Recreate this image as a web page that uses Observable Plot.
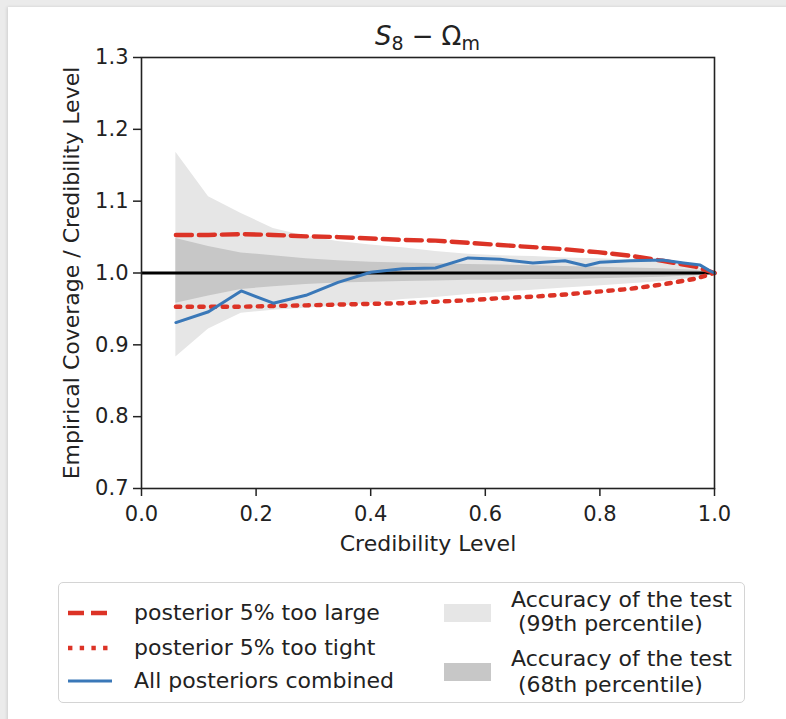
<!DOCTYPE html>
<html>
<head>
<meta charset="utf-8">
<script src="https://cdn.jsdelivr.net/npm/d3@7"></script>
<script src="https://cdn.jsdelivr.net/npm/@observablehq/plot@0.6"></script>
<style>
  html, body { margin: 0; padding: 0; }
  body { width: 786px; height: 719px; background: #ebebeb; position: relative; overflow: hidden;
         font-family: "DejaVu Sans", sans-serif; color: #222; }
  #card { position: absolute; left: 8px; top: 7px; right: -10px; bottom: -10px; background: #fff;
          box-shadow: -1px 0 3px rgba(0,0,0,0.12); }
  #chart { position: absolute; left: 0; top: 0; }
  #title { position: absolute; left: 0; width: 855px; top: 21px; text-align: center; font-size: 26px; line-height: 30px; }
  #title sub { font-size: 19px; vertical-align: -5px; line-height: 0; }
  #title .op { margin: 0 8px; }
  #legend { position: absolute; left: 58px; top: 582px; width: 687px; height: 121px; box-sizing: border-box;
            border: 1px solid #d4d4d4; border-radius: 5px; background: #fff; }
  .lg { position: absolute; font-size: 22px; line-height: 26px; white-space: pre; color: #222; }
  .sw { position: absolute; }
</style>
</head>
<body>
<div id="card"></div>
<div id="chart"></div>
<div id="title"><i>S</i><sub>8</sub><span class="op">−</span>Ω<sub>m</sub></div>
<div id="legend"></div>
<script>
// Credibility levels at which the coverage test was evaluated
const levels = [0.06, 0.117, 0.174, 0.23, 0.287, 0.343, 0.4, 0.456, 0.513, 0.57, 0.626, 0.683, 0.739, 0.796, 0.853, 0.909, 0.966, 1.0];

// Reference curves: posteriors that are 5% too wide / too narrow
const tooLarge = [1.053, 1.053, 1.054, 1.053, 1.051, 1.050, 1.048, 1.046, 1.045, 1.042, 1.039, 1.036, 1.033, 1.029, 1.024, 1.017, 1.009, 1.0];
const tooTight = [0.953, 0.953, 0.953, 0.954, 0.955, 0.956, 0.957, 0.958, 0.960, 0.962, 0.965, 0.967, 0.970, 0.974, 0.978, 0.984, 0.992, 1.0];

// Accuracy of the test (99th and 68th percentile envelopes)
const band99Lo = [0.883, 0.922, 0.944, 0.948, 0.951, 0.954, 0.958, 0.963, 0.966, 0.970, 0.973, 0.976, 0.979, 0.982, 0.985, 0.988, 0.993, 1.0];
const band99Hi = [1.168, 1.106, 1.083, 1.062, 1.051, 1.044, 1.039, 1.035, 1.030, 1.026, 1.024, 1.023, 1.021, 1.020, 1.018, 1.015, 1.009, 1.0];
const band68Lo = [0.958, 0.968, 0.977, 0.981, 0.984, 0.986, 0.987, 0.988, 0.989, 0.990, 0.990, 0.991, 0.991, 0.992, 0.993, 0.994, 0.996, 1.0];
const band68Hi = [1.048, 1.037, 1.028, 1.024, 1.020, 1.017, 1.015, 1.014, 1.013, 1.012, 1.011, 1.010, 1.009, 1.008, 1.007, 1.006, 1.004, 1.0];

// Empirical coverage of all posteriors combined
const combinedLevels = [0.06, 0.117, 0.174, 0.23, 0.287, 0.343, 0.4, 0.456, 0.513, 0.57, 0.626, 0.683, 0.739, 0.775, 0.8, 0.853, 0.909, 0.946, 0.975, 0.992, 1.0];
const combined =       [0.931, 0.946, 0.975, 0.958, 0.969, 0.987, 1.001, 1.006, 1.007, 1.021, 1.019, 1.014, 1.017, 1.010, 1.015, 1.017, 1.018, 1.014, 1.011, 1.003, 1.0];

// Axis ticks
const xTicks = [0, 0.2, 0.4, 0.6, 0.8, 1.0];
const yTicks = [0.7, 0.8, 0.9, 1.0, 1.1, 1.2, 1.3];

const rows = levels.map((level, i) => ({
  level, tooLarge: tooLarge[i], tooTight: tooTight[i],
  lo99: band99Lo[i], hi99: band99Hi[i], lo68: band68Lo[i], hi68: band68Hi[i]
}));
const combinedRows = combinedLevels.map((level, i) => ({level, value: combined[i]}));

const RED = "#dc3326";
const BLUE = "#3a78b8";
const LIGHT = "#e6e6e6";
const DARK = "#c7c7c7";
const DASHED = "16,7";
const DOTTED = "4.4,7.3";

const chart = Plot.plot({
  width: 786,
  height: 560,
  marginLeft: 141,
  marginRight: 72,
  marginTop: 57,
  marginBottom: 72,
  style: {background: "transparent", fontFamily: "DejaVu Sans, sans-serif", fontSize: "21px", color: "#222", overflow: "visible"},
  x: {domain: [0, 1]},
  y: {domain: [0.7, 1.3]},
  marks: [
    Plot.areaY(rows, {x: "level", y1: "lo99", y2: "hi99", fill: LIGHT}),
    Plot.areaY(rows, {x: "level", y1: "lo68", y2: "hi68", fill: DARK}),
    Plot.ruleY([1], {stroke: "#000", strokeWidth: 3}),
    Plot.lineY(rows, {x: "level", y: "tooLarge", stroke: RED, strokeWidth: 4.4, strokeDasharray: DASHED}),
    Plot.lineY(rows, {x: "level", y: "tooTight", stroke: RED, strokeWidth: 4.4, strokeDasharray: DOTTED}),
    Plot.lineY(combinedRows, {x: "level", y: "value", stroke: BLUE, strokeWidth: 3}),
    Plot.frame({stroke: "#222", strokeWidth: 1.6}),
    Plot.axisX({ticks: xTicks, tickFormat: d3.format(".1f"), tickSize: 8, tickPadding: 10, label: null, fontSize: 21, stroke: "#222", strokeWidth: 1.5}),
    Plot.axisY({ticks: yTicks, tickFormat: d3.format(".1f"), tickSize: 8, tickPadding: 5, label: null, fontSize: 21, stroke: "#222", strokeWidth: 1.5}),
    Plot.text(["Credibility Level"], {frameAnchor: "bottom", dy: 62, fontSize: 22, fill: "#222"}),
    Plot.text(["Empirical Coverage / Credibility Level"], {frameAnchor: "left", dx: -70, rotate: -90, textAnchor: "middle", fontSize: 22, fill: "#222"})
  ]
});
document.getElementById("chart").appendChild(chart);

// Legend, positioned below the axes
const legend = document.getElementById("legend");
const ox = 58, oy = 582;
function lineSample(y, dash, color, width) {
  const ns = "http://www.w3.org/2000/svg";
  const svg = document.createElementNS(ns, "svg");
  svg.setAttribute("width", 46); svg.setAttribute("height", 12);
  svg.setAttribute("class", "sw");
  svg.style.left = (67 - ox) + "px"; svg.style.top = (y - 6 - oy) + "px";
  const l = document.createElementNS(ns, "line");
  l.setAttribute("x1", 0); l.setAttribute("x2", 44); l.setAttribute("y1", 6); l.setAttribute("y2", 6);
  l.setAttribute("stroke", color); l.setAttribute("stroke-width", width);
  if (dash) l.setAttribute("stroke-dasharray", dash);
  svg.appendChild(l);
  legend.appendChild(svg);
}
function label(text, x, y) {
  const d = document.createElement("div");
  d.className = "lg"; d.textContent = text;
  d.style.left = (x - ox) + "px"; d.style.top = (y - 13 - oy) + "px";
  legend.appendChild(d);
}
function swatch(y, color) {
  const d = document.createElement("div");
  d.className = "sw";
  d.style.left = (443 - ox) + "px"; d.style.top = (y - 9 - oy) + "px";
  d.style.width = "47px"; d.style.height = "18px"; d.style.background = color;
  legend.appendChild(d);
}
lineSample(612, DASHED, RED, 4.4);
label("posterior 5% too large", 133, 612);
lineSample(647, DOTTED, RED, 4.4);
label("posterior 5% too tight", 133, 647);
lineSample(680, null, BLUE, 3);
label("All posteriors combined", 133, 680);
swatch(612, LIGHT);
label("Accuracy of the test", 510, 599);
label(" (99th percentile)", 510, 623);
swatch(671, DARK);
label("Accuracy of the test", 510, 658);
label(" (68th percentile)", 510, 684);
</script>
</body>
</html>
